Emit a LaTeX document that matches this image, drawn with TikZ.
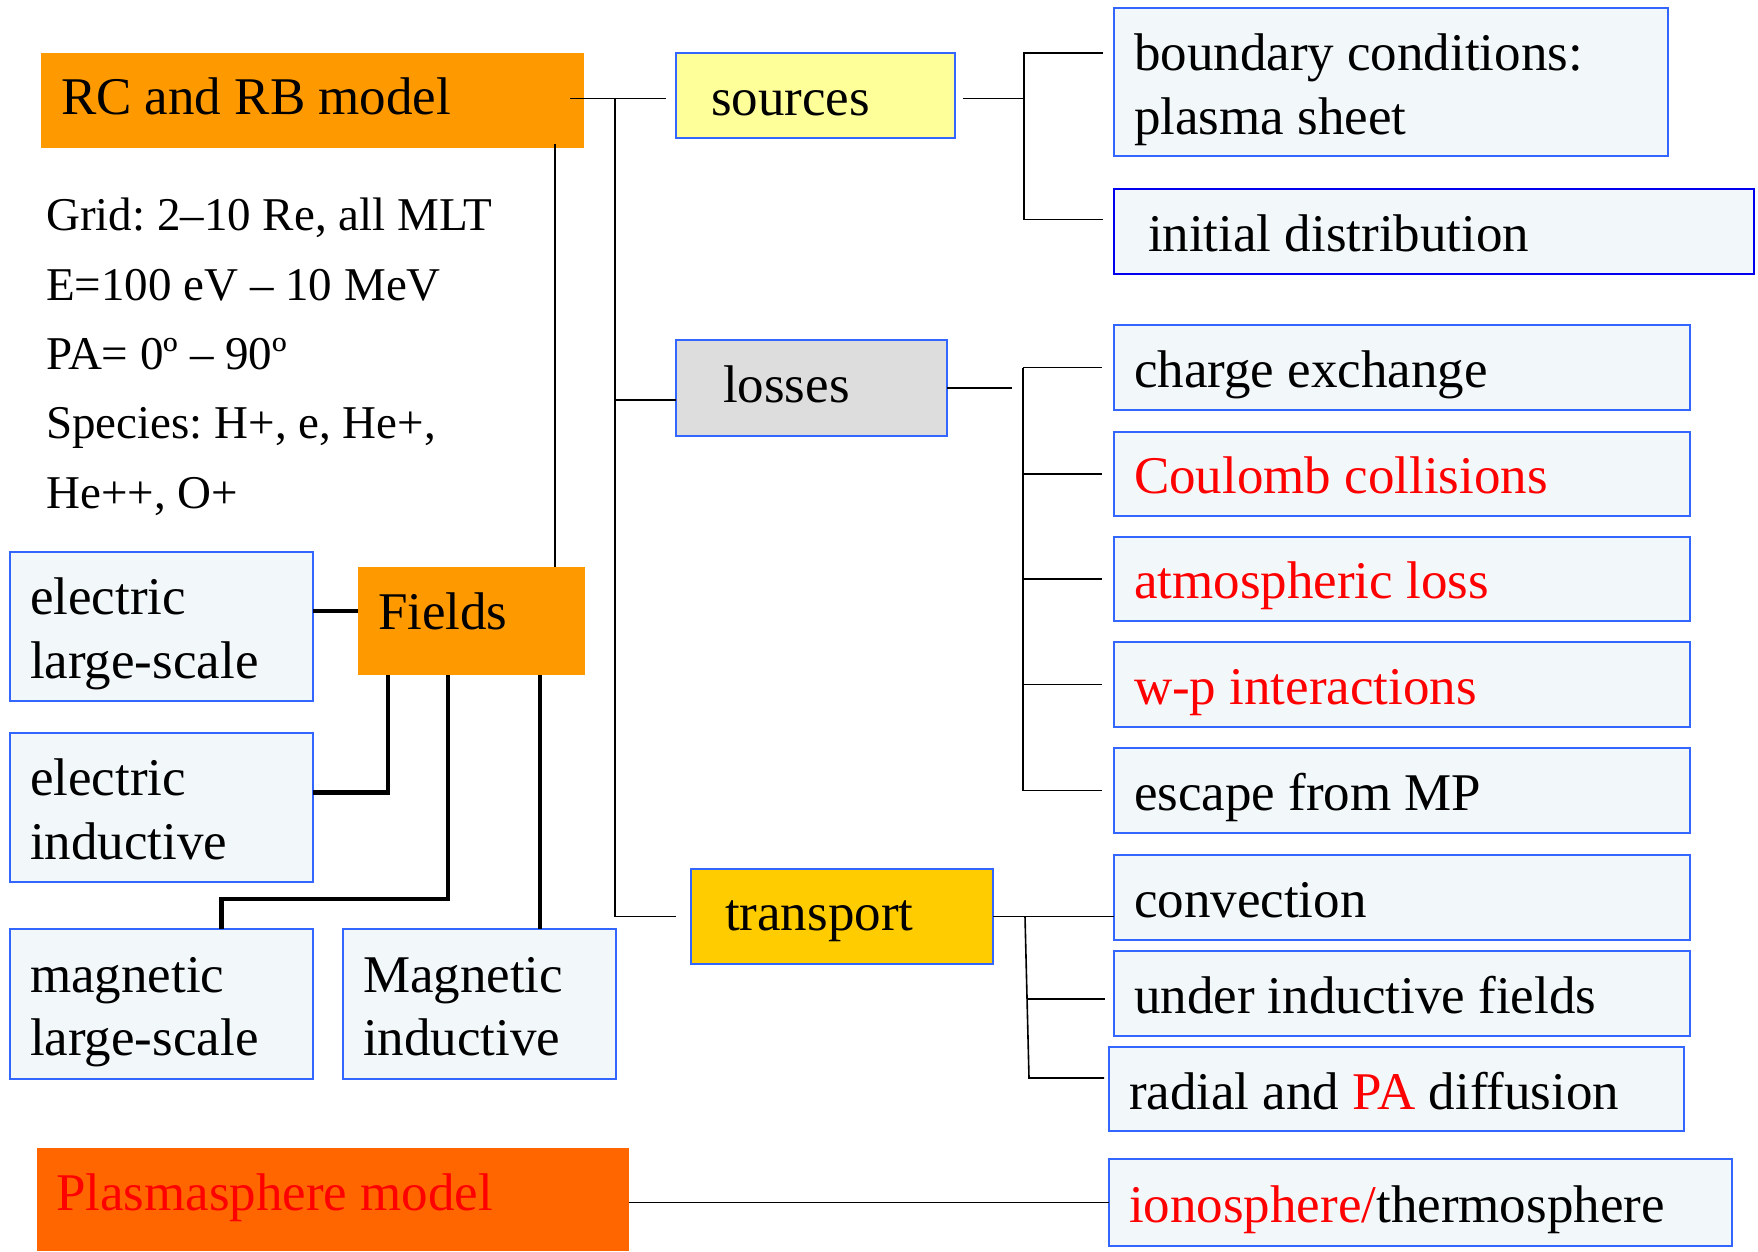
\documentclass[tikz,border=0pt]{standalone}
\usepackage{fontspec}
\setmainfont{Liberation Serif}
\frenchspacing
\definecolor{rcorange}{HTML}{FF9900}
\definecolor{plsorange}{HTML}{FF6600}
\definecolor{srcyellow}{HTML}{FFFF99}
\definecolor{lossgray}{HTML}{DDDDDD}
\definecolor{trngold}{HTML}{FFCC00}
\definecolor{cellfill}{HTML}{F2F7FA}
\definecolor{cellline}{HTML}{3366FF}
\definecolor{deepblue}{HTML}{0000EE}
\tikzset{
  textbox/.style 2 args={text height=#1, text depth=#2},
  size/.style n args={3}{minimum width=#1pt, minimum height=#2pt, inner xsep=#3pt,
    /utils/exec={\pgfmathsetmacro\cellw{#1-2*#3}}, text width=\cellw pt},
  panel/.style={anchor=north west, inner ysep=0pt, outer sep=0pt, align=flush left,
    font=\fontsize{53}{63.5}\selectfont, textbox={40pt}{1pt}},
  cell/.style={panel, draw=cellline, line width=1.6pt, fill=cellfill},
  link/.style={line width=1.6pt},
  bold/.style={line width=4.5pt}
}
\begin{document}
\begin{tikzpicture}[x=1pt,y=-1pt]
\useasboundingbox (0,0) rectangle (1758,1251);
% models
\node[panel, fill=rcorange, size={543}{95}{20}, textbox={40pt}{13pt}] (rc) at (41,53) {RC and RB model};
\node[panel, fill=plsorange, text=red, size={592}{103}{19}, textbox={40pt}{19pt}] (pls) at (37,1148) {Plasmasphere model};
\node[panel, fill=rcorange, size={227}{108}{20}, textbox={40pt}{24pt}] (fld) at (358,567) {Fields};
\node[anchor=base west, align=flush left, inner sep=0pt, font=\fontsize{47}{69.3}\selectfont] (grid) at (46,508)
  {Grid: 2--10 Re, all MLT\\E=100 eV -- 10 MeV\\PA= 0º -- 90º\\Species: H+, e, He+,\\He++, O+};
% fields
\node[cell, size={303}{149}{20}, textbox={40pt}{64pt}] (ell) at (10,552) {electric\\large-scale};
\node[cell, size={303}{149}{20}, textbox={40pt}{64pt}] (eli) at (10,733) {electric\\inductive};
\node[cell, size={303}{150}{20}, textbox={40pt}{64pt}] (mls) at (10,929) {magnetic\\large-scale};
\node[cell, size={273}{150}{20}, textbox={40pt}{64pt}] (mgi) at (343,929) {Magnetic\\inductive};
% processes
\node[cell, fill=srcyellow, size={279}{85}{35}, textbox={40pt}{1pt}] (src) at (676,53) {sources};
\node[cell, fill=lossgray, size={271}{96}{47}, textbox={40pt}{11pt}] (los) at (676,340) {losses};
\node[cell, fill=trngold, size={302}{95}{34}, textbox={40pt}{12pt}] (trn) at (691,869) {transport};
% right column
\node[cell, size={554}{148}{20}, textbox={40pt}{63pt}] (bnd) at (1114,8) {boundary conditions:\\plasma sheet};
\node[cell, draw=deepblue, line width=2.2pt, size={640}{85}{34}] (ini) at (1114,189) {initial distribution};
\node[cell, size={576}{85}{20}] (chx) at (1114,325) {charge exchange};
\node[cell, text=red, size={576}{84}{20}] (cou) at (1114,432) {Coulomb collisions};
\node[cell, text=red, size={576}{84}{20}] (atm) at (1114,537) {atmospheric loss};
\node[cell, text=red, size={576}{85}{20}] (wpi) at (1114,642) {w-p interactions};
\node[cell, size={576}{85}{20}] (esc) at (1114,748) {escape from MP};
\node[cell, size={576}{85}{20}, textbox={40pt}{0pt}] (cnv) at (1114,855) {convection};
\node[cell, size={576}{85}{20}, textbox={40pt}{0pt}] (uif) at (1114,951) {under inductive fields};
\node[cell, size={575}{84}{20}, textbox={40pt}{0pt}] (rad) at (1109,1047) {radial and \textcolor{red}{PA} diffusion};
\node[cell, size={623}{87}{20}, textbox={40pt}{0pt}] (ion) at (1109,1159) {\textcolor{red}{ionosphere/}thermosphere};
% trunk
\coordinate (rcout) at (570,98.3);
\coordinate (tk1) at (615,98.3);
\coordinate (tk2) at (615,400);
\coordinate (rcdown) at (555,144);
\draw[link, shorten >=10pt] (rcout) -- (rcout -| src.west);
\draw[link, shorten >=15pt] (tk1) |- (trn.west);
\draw[link] (tk2) -- (tk2 -| los.west);
\draw[link] (rcdown) -- (rcdown |- fld.north);
% sources
\coordinate (sb1) at (1024,52.7);
\coordinate (sb2) at (1024,219.3);
\draw[link, shorten <=8pt] (src.east |- rcout) -- (rcout -| sb1);
\draw[link, shorten <=11pt, shorten >=11pt] (sb1 -| bnd.west) -- (sb1) -- (sb2) -- (sb2 -| ini.west);
% losses
\coordinate (lb) at (1023,0);
\draw[link, shorten >=11pt] (los.east) -- (los.east -| lb);
\draw[link] (chx.west -| lb) -- (esc.west -| lb);
\foreach \b in {chx,cou,atm,wpi,esc}
  \draw[link, shorten >=12pt] (\b.west -| lb) -- (\b.west);
% transport
\coordinate (tb1) at (1025,916.5);
\coordinate (tb2) at (1029,1078);
\coordinate (tb3) at (1027,999);
\draw[link] (trn.east) -- (trn.east -| cnv.west);
\draw[link, shorten >=5pt] (tb1) -- (tb2) -- (tb2 -| rad.west);
\draw[link, shorten >=9pt] (tb3) -- (tb3 -| uif.west);
% plasmasphere
\draw[link] (ion.west -| pls.east) -- (ion.west);
% fields
\coordinate (e1) at (313,611);
\draw[bold] (e1) -- (e1 -| fld.west);
\path (fld.south west) ++(30,0) coordinate (f1) ++(60,0) coordinate (f2) ++(92,0) coordinate (f3);
\draw[bold] (f1) |- ([yshift=15pt]eli.east);
\draw[bold] (f2) |- ([xshift=60pt,yshift=30pt]mls.north) -- ([xshift=60pt]mls.north);
\draw[bold] (f3) -- (f3 |- mgi.north);
\end{tikzpicture}
\end{document}
